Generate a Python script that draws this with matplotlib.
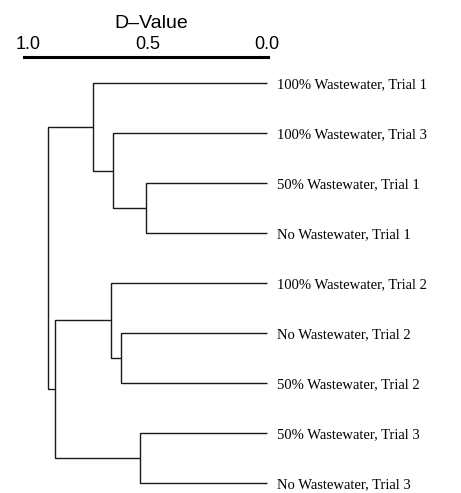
import matplotlib
matplotlib.use('Agg')
import matplotlib.pyplot as plt

# Leaves in plotted order (top to bottom).
LEAVES = ['100% Wastewater, Trial 1', '100% Wastewater, Trial 3',
          '50% Wastewater, Trial 1', 'No Wastewater, Trial 1',
          '100% Wastewater, Trial 2', 'No Wastewater, Trial 2',
          '50% Wastewater, Trial 2', '50% Wastewater, Trial 3',
          'No Wastewater, Trial 3']
# Merges, linkage style: new cluster ids start at len(LEAVES).
MERGE_LEFT = [2, 1, 0, 5, 4, 7, 13, 11]
MERGE_RIGHT = [3, 9, 10, 6, 12, 8, 14, 15]
MERGE_D = [0.508, 0.646, 0.730, 0.612, 0.654, 0.531, 0.888, 0.918]
TICKS = [1.0, 0.5, 0.0]

W, H = 461, 493
fig = plt.figure(figsize=(W / 100, H / 100), dpi=100)
ax = fig.add_axes([24 / W, 0, 244 / W, 1 - 57 / H])
ax.set_xlim(1.017, -0.004)
ax.set_ylim(8.206, -0.527)

pos = {i: (0.0, float(i)) for i in range(len(LEAVES))}
for k, (a, b, d) in enumerate(zip(MERGE_LEFT, MERGE_RIGHT, MERGE_D)):
  xa, ya = pos[a]
  xb, yb = pos[b]
  ax.plot([xa, d, d, xb], [ya, ya, yb, yb], color='#1a1a1a', lw=1.0,
          solid_joinstyle='miter', solid_capstyle='butt')
  pos[len(LEAVES) + k] = (d, (ya + yb) / 2)

for i, name in enumerate(LEAVES):
  ax.annotate(name, xy=(0.0, i), xytext=(7, 0), textcoords='offset points',
              va='center_baseline', ha='left', fontsize=10.5,
              family='Liberation Serif', annotation_clip=False)

# D-value axis on top
for s in ['left', 'right', 'bottom']:
  ax.spines[s].set_visible(False)
ax.spines['top'].set_linewidth(2.2)
ax.yaxis.set_visible(False)
ax.xaxis.set_ticks_position('top')
ax.xaxis.set_label_position('top')
ax.set_xticks(TICKS)
ax.set_xticklabels(['%.1f' % t for t in TICKS], family='Liberation Sans', fontsize=13)
ax.tick_params(axis='x', length=0, pad=3)
ax.set_xlabel('D\u2013Value', family='Liberation Sans', fontsize=14, labelpad=6)
ax.xaxis.label.set_x((151.7 - 24) / 244)

fig.savefig('out.png', dpi=100)
